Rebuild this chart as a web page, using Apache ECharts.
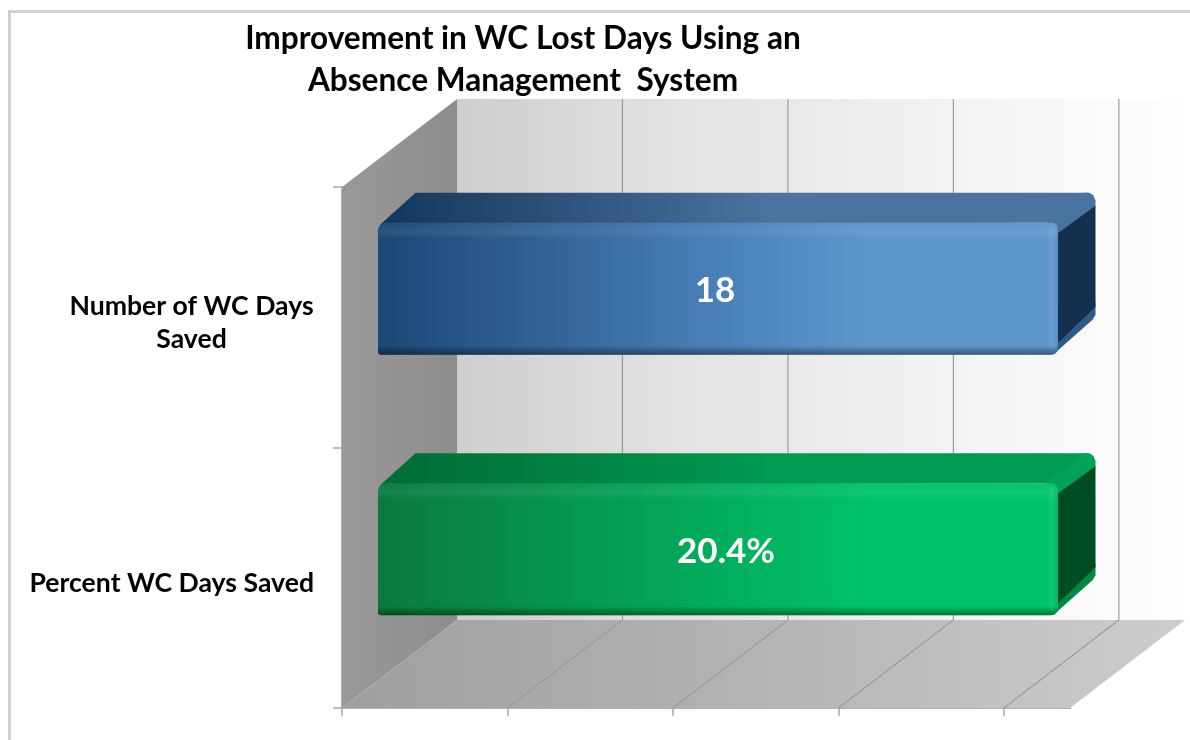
<!DOCTYPE html>
<html>
<head>
<meta charset="utf-8">
<title>Improvement in WC Lost Days</title>
<script src="https://cdn.jsdelivr.net/npm/echarts@6/dist/echarts.min.js"></script>
<style>
  html, body { margin: 0; padding: 0; background: #fff; }
  #chart { width: 1190px; height: 740px; }
</style>
</head>
<body>
<div id="chart"></div>
<script>
// data
const categories = ['Number of WC Days\nSaved', 'Percent WC Days Saved'];
// both bars are drawn the same length in the source, whatever the printed label says
const barValues = [20.55, 20.55];
const barLabels = ['18', '20.4%'];
const xTicks = [0, 5, 10, 15, 20];
const xMax = 22;

// look of the fake 3D box
const floorDepth = [115, -88];
const barOffset = [36, -28.5];
const barDepth = [37.5, -30];
const labelShift = [-3, 8];
const barColors = [
  { frontL: '#1b4775', frontM: '#4a80b8', frontR: '#5e96cc', topL: '#14365c', topR: '#4c739f', edge: '#47749f', side: '#13304f', bevel: '#2f5a88' },
  { frontL: '#0a7a3e', frontM: '#02ad5c', frontR: '#00c268', topL: '#006b36', topR: '#009a52', edge: '#00a356', side: '#004d24', bevel: '#008a46' }
];
const FONT = 'Lato, Carlito, "Open Sans", sans-serif';

function hGrad(stops) {
  return {
    type: 'linear', x: 0, y: 0, x2: 1, y2: 0,
    colorStops: stops.map(s => ({ offset: s[0], color: s[1] }))
  };
}
function vGrad(stops) {
  return {
    type: 'linear', x: 0, y: 0, x2: 0, y2: 1,
    colorStops: stops.map(s => ({ offset: s[0], color: s[1] }))
  };
}

// walls, floor and grid lines
function renderRoom(params, api) {
  const bandH = api.size([0, 1])[1];
  const yTop = api.coord([0, 0])[1] - bandH / 2;
  const yBot = api.coord([0, 1])[1] + bandH / 2;
  const x0 = api.coord([0, 0])[0];
  const xEnd = api.coord([xMax, 0])[0];
  const dx = floorDepth[0], dy = floorDepth[1];
  const children = [
    { type: 'rect', shape: { x: x0 + dx, y: yTop + dy, width: xEnd - x0, height: yBot - yTop },
      style: { fill: hGrad([[0, '#cecece'], [0.3, '#e2e2e2'], [0.7, '#f3f3f3'], [0.9, '#fbfbfb'], [1, '#fefefe']]) } },
    { type: 'polygon', shape: { points: [[x0, yTop], [x0 + dx, yTop + dy], [x0 + dx, yBot + dy], [x0, yBot]] },
      style: { fill: hGrad([[0, '#999999'], [1, '#8d8d8d']]) } },
    { type: 'polygon', shape: { points: [[x0, yBot], [x0 + dx, yBot + dy], [xEnd + dx, yBot + dy], [xEnd, yBot]] },
      style: { fill: hGrad([[0, '#9f9f9f'], [0.5, '#b4b4b4'], [1, '#cdcdcd']]) } }
  ];
  xTicks.slice(1).forEach(function (t) {
    const x = api.coord([t, 0])[0];
    children.push({ type: 'polyline',
      shape: { points: [[x, yBot], [x + dx, yBot + dy], [x + dx, yTop + dy]] },
      style: { fill: 'none', stroke: '#9c9c9c', lineWidth: 1.2 } });
  });
  return { type: 'group', children: children };
}

// one box per data item
function renderBar(params, api) {
  const i = params.dataIndex;
  const c = barColors[i];
  const start = api.coord([0, i]);
  const end = api.coord([api.value(0), i]);
  const h = 132;
  const x0 = start[0] + barOffset[0];
  const x1 = end[0] + barOffset[0];
  const y0 = start[1] + barOffset[1] - h / 2;
  const y1 = y0 + h;
  const dx = barDepth[0], dy = barDepth[1];
  const bx = x1 + dx, by = y0 + dy;
  return {
    type: 'group',
    children: [
      // top face
      { type: 'polygon', shape: { points: [[x0 + 2, y0 + 2], [x0 + dx, by], [bx - 8, by], [bx - 3, by + 2], [bx, by + 8], [x1, y0 + 10], [x1 - 8, y0]] },
        style: { fill: hGrad([[0, c.topL], [0.55, c.topR], [1, c.topR]]) } },
      // lighter edge between top and side
      { type: 'polygon', shape: { points: [[x1 - 12, y0], [bx - 12, by], [bx - 6, by], [bx - 2, by + 3], [bx, by + 8], [bx, by + 14], [x1, y0 + 10]] },
        style: { fill: c.edge } },
      // lower edge of the side
      { type: 'polygon', shape: { points: [[x1, y1 - 14], [bx, by + h - 14 - 8], [bx, by + h - 10], [bx - 3, by + h - 5], [x1 - 5, y1]] },
        style: { fill: c.bevel } },
      // side face
      { type: 'polygon', shape: { points: [[x1, y0 + 10], [bx, by + 13], [bx, by + h - 18], [x1, y1 - 12]] },
        style: { fill: c.side } },
      // front face
      { type: 'rect', shape: { x: x0, y: y0, width: x1 - x0, height: h, r: [8, 6, 8, 3] },
        style: { fill: hGrad([[0, c.frontL], [0.5, c.frontM], [0.72, c.frontR], [1, c.frontR]]) } },
      // bevel shading on the front
      { type: 'rect', shape: { x: x0, y: y0, width: x1 - x0, height: 16, r: [8, 6, 0, 0] },
        style: { fill: vGrad([[0, 'rgba(255,255,255,0.02)'], [0.6, 'rgba(255,255,255,0.07)'], [1, 'rgba(255,255,255,0)']]) } },
      { type: 'rect', shape: { x: x0, y: y1 - 9, width: x1 - x0, height: 9, r: [0, 0, 6, 3] },
        style: { fill: vGrad([[0, 'rgba(0,0,0,0)'], [1, 'rgba(0,0,0,0.42)']]) } },
      { type: 'rect', shape: { x: x1 - 13, y: y0 + 4, width: 13, height: h - 10, r: [0, 4, 4, 0] },
        style: { fill: hGrad([[0, 'rgba(255,255,255,0)'], [0.6, 'rgba(255,255,255,0.07)'], [1, 'rgba(0,0,0,0.04)']]) } },
      { type: 'text', x: (x0 + x1) / 2 + labelShift[i], y: (y0 + y1) / 2 + 2,
        style: { text: barLabels[i], fill: '#ffffff', font: 'bold 35px ' + FONT, textAlign: 'center', textVerticalAlign: 'middle' } }
    ]
  };
}

const chart = echarts.init(document.getElementById('chart'), null, { renderer: 'canvas' });

chart.setOption({
  animation: false,
  backgroundColor: '#ffffff',
  title: {
    text: 'Improvement in WC Lost Days Using an\nAbsence Management  System',
    left: 518,
    top: 13,
    textAlign: 'center',
    textStyle: { fontFamily: FONT, fontWeight: 'bold', fontSize: 31.6, lineHeight: 42, color: '#000000' }
  },
  graphic: [
    { type: 'rect', z: 0, shape: { x: 9.5, y: 11.5, width: 1300, height: 900 },
      style: { fill: 'none', stroke: '#d0d0d0', lineWidth: 3 } }
  ],
  grid: { left: 342, top: 187, width: 728, height: 521 },
  xAxis: {
    type: 'value',
    min: 0,
    max: xMax,
    interval: 5,
    axisLine: { show: true, lineStyle: { color: '#b2b2b2', width: 2 } },
    axisTick: { show: true, length: 8, customValues: xTicks, lineStyle: { color: '#a8a8a8', width: 1.5 } },
    axisLabel: { show: false },
    splitLine: { show: false }
  },
  yAxis: {
    type: 'category',
    inverse: true,
    data: categories,
    axisLine: { show: true, lineStyle: { color: '#b2b2b2', width: 2 } },
    axisTick: { show: true, length: 9, lineStyle: { color: '#a8a8a8', width: 1.5 } },
    axisLabel: {
      margin: 28,
      padding: [12, 0, 0, 0],
      formatter: function (v) {
        if (v.indexOf('\n') < 0) return '{one|' + v + '}';
        return v.split('\n').map(l => '{wrap|' + l + '}').join('\n');
      },
      rich: {
        one: { fontFamily: FONT, fontWeight: 'bold', fontSize: 26.6, lineHeight: 33, color: '#000' },
        wrap: { fontFamily: FONT, fontWeight: 'bold', fontSize: 26.6, lineHeight: 33, color: '#000', width: 245, align: 'center' }
      }
    }
  },
  series: [
    { type: 'custom', name: 'room', coordinateSystem: 'cartesian2d', silent: true, z: 1,
      data: [[0, 0]], encode: { x: 0, y: 1 }, renderItem: renderRoom, clip: false },
    { type: 'custom', name: 'bars', coordinateSystem: 'cartesian2d', z: 3,
      data: barValues.map((v, i) => [v, i]), encode: { x: 0, y: 1 }, renderItem: renderBar, clip: false }
  ]
});

window.addEventListener('resize', () => chart.resize());
</script>
</body>
</html>
